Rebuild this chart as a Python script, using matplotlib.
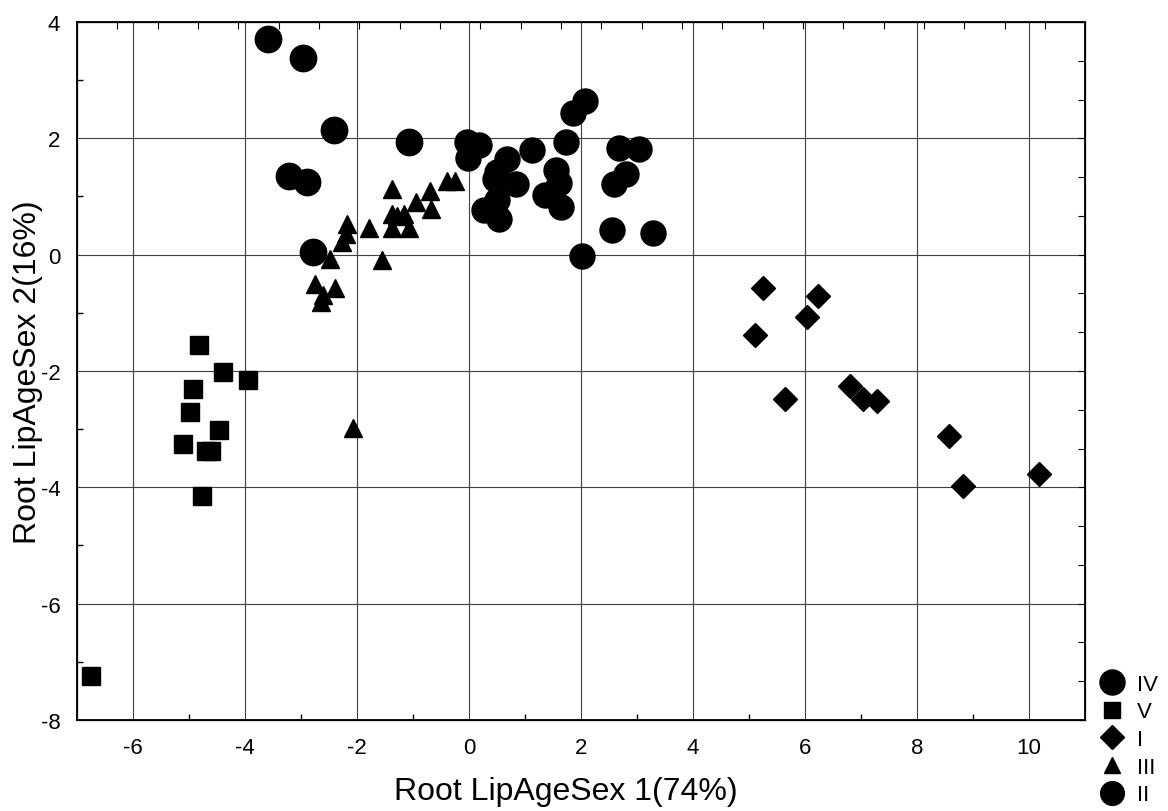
import numpy as np
import matplotlib
matplotlib.use('Agg')
import matplotlib.pyplot as plt

plt.rcParams['font.family'] = ['Liberation Sans', 'DejaVu Sans']
plt.rcParams['axes.unicode_minus'] = False

# Root scores (Root 1, Root 2)
iv_x = [-3.59, -2.97, -2.42, -3.21, -2.90, -2.78, -1.07]
iv_y = [3.70, 3.38, 2.15, 1.35, 1.25, 0.05, 1.93]

v_x = [-4.82, -4.40, -3.94, -4.92, -4.98, -4.46, -5.10, -4.70, -4.60, -4.76, -6.75]
v_y = [-1.55, -2.01, -2.15, -2.31, -2.71, -3.02, -3.25, -3.37, -3.37, -4.15, -7.25]

i_x = [5.24, 6.23, 6.04, 5.11, 5.64, 6.80, 7.04, 7.28, 8.56, 8.82, 10.18]
i_y = [-0.57, -0.71, -1.07, -1.39, -2.48, -2.26, -2.48, -2.51, -3.11, -3.97, -3.77]

iii_x = [-1.37, -2.18, -2.20, -2.27, -1.79, -1.38, -1.29, -1.17, -1.38, -1.08,
         -0.95, -0.70, -0.68, -0.40, -0.25, -1.55, -2.48, -2.75, -2.40, -2.60,
         -2.64, -2.07]
iii_y = [1.12, 0.53, 0.36, 0.22, 0.45, 0.70, 0.67, 0.70, 0.45, 0.45,
         0.91, 1.09, 0.78, 1.27, 1.26, -0.10, -0.07, -0.51, -0.58, -0.70,
         -0.81, -2.98]

ii_x = [-0.03, 0.17, -0.01, 0.68, 1.12, 0.49, 0.46, 0.83, 0.49, 0.26, 0.54,
        1.55, 1.61, 1.36, 1.65, 1.73, 1.86, 2.07, 2.02, 2.55, 2.58, 2.80,
        2.68, 3.04, 3.28]
ii_y = [1.93, 1.89, 1.67, 1.65, 1.80, 1.42, 1.30, 1.21, 0.94, 0.77, 0.61,
        1.46, 1.23, 1.03, 0.82, 1.93, 2.43, 2.65, -0.02, 0.42, 1.22, 1.39,
        1.83, 1.81, 0.37]

fig = plt.figure(figsize=(11.68, 8.12), dpi=100)
ax = fig.add_axes([0.0659, 0.1121, 0.8632, 0.8596])

ax.plot(iv_x, iv_y, 'o', color='k', ms=19, ls='none', label='IV', zorder=3)
ax.plot(v_x, v_y, 's', color='k', ms=12.5, ls='none', label='V', zorder=3)
ax.plot(i_x, i_y, 'D', color='k', ms=12.5, ls='none', label='I', zorder=3)
ax.plot(iii_x, iii_y, '^', color='k', ms=12.5, ls='none', label='III', zorder=3)
ax.plot(ii_x, ii_y, 'o', color='k', ms=18, ls='none', label='II', zorder=3)

ax.set_xlim(-7, 11)
ax.set_ylim(-8, 4)
ax.set_xticks(np.arange(-6, 11, 2))
ax.set_yticks(np.arange(-8, 5, 2))
ax.set_xticks(np.arange(-5, 11, 2), minor=True)
ax.set_yticks(np.arange(-7, 4, 2), minor=True)
ax.grid(True, which='major', color='#404040', lw=0.8)
ax.tick_params(which='major', direction='in', length=0, labelsize=16, pad=12)
ax.tick_params(which='minor', direction='in', length=4, width=1)
for s in ax.spines.values():
    s.set_linewidth(1.3)

# top / right tick marks at their own spacing
axt = ax.twiny()
axt.set_xlim(-7, 11)
axt.set_xticks(np.linspace(-7, 11, 26))
axt.tick_params(direction='in', length=5, labeltop=False)
axr = ax.twinx()
axr.set_ylim(-8, 4)
axr.set_yticks(np.linspace(-8, 4, 19))
axr.tick_params(direction='in', length=5, labelright=False)

ax.set_xlabel('Root LipAgeSex 1(74%)', fontsize=23)
ax.xaxis.set_label_coords(0.485, -0.08)
ax.set_ylabel('Root LipAgeSex 2(16%)', fontsize=23)
ax.yaxis.set_label_coords(-0.034, 0.5)

h, l = ax.get_legend_handles_labels()
fig.legend(h, l, loc='upper left', bbox_to_anchor=(0.935, 0.18), frameon=False,
           fontsize=16, markerscale=0.95, handlelength=1.0, handletextpad=0.6,
           labelspacing=0.3, borderaxespad=0)

fig.savefig('out.png', dpi=100)
